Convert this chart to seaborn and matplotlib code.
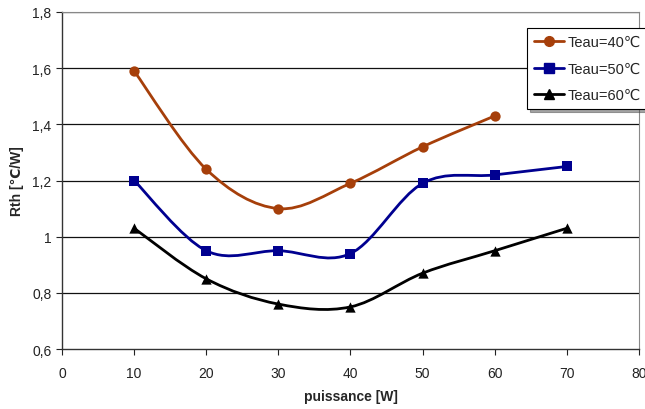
import numpy as np
import matplotlib
matplotlib.use("Agg")
import matplotlib.pyplot as plt
from matplotlib.path import Path
from matplotlib.patches import PathPatch
from matplotlib.lines import Line2D
import pandas as pd
import seaborn as sns

# data
puissance_40 = [10, 20, 30, 40, 50, 60]
rth_40 = [1.59, 1.24, 1.10, 1.19, 1.32, 1.43]
puissance_50 = [10, 20, 30, 40, 50, 60, 70]
rth_50 = [1.20, 0.95, 0.95, 0.94, 1.19, 1.22, 1.25]
puissance_60 = [10, 20, 30, 40, 50, 60, 70]
rth_60 = [1.03, 0.85, 0.76, 0.75, 0.87, 0.95, 1.03]

labels = ["Teau=40℃", "Teau=50℃", "Teau=60℃"]
colors = ["#A63F0A", "#000090", "#000000"]
markers = ["o", "s", "^"]

sns.set_theme(style="white")
plt.rcParams['font.family'] = ['Liberation Sans', 'DejaVu Sans']

fig = plt.figure(figsize=(6.45, 4.10), dpi=100)
ax = fig.add_axes([0.0961, 0.1463, 0.8946, 0.822])


def smooth_path(xs, ys):
    # Excel-like smoothed line: cubic bezier through the points
    pts = np.column_stack([xs, ys]).astype(float)
    n = len(pts)
    verts = [pts[0]]
    codes = [Path.MOVETO]
    for i in range(n - 1):
        p0 = pts[max(i - 1, 0)]
        p1 = pts[i]
        p2 = pts[i + 1]
        p3 = pts[min(i + 2, n - 1)]
        c1 = p1 + (p2 - p0) / 6.0
        c2 = p2 - (p3 - p1) / 6.0
        verts += [c1, c2, p2]
        codes += [Path.CURVE4] * 3
    return Path(verts, codes)


series = [(puissance_40, rth_40), (puissance_50, rth_50), (puissance_60, rth_60)]
handles = []
for (xs, ys), lab, col, mk in zip(series, labels, colors, markers):
    ax.add_patch(PathPatch(smooth_path(xs, ys), facecolor="none",
                           edgecolor=col, lw=2, zorder=3))
    df = pd.DataFrame({"x": xs, "y": ys})
    sns.scatterplot(data=df, x="x", y="y", marker=mk, color=col, s=55,
                    edgecolor=col, linewidth=0, ax=ax, zorder=4)
    handles.append(Line2D([0], [0], color=col, lw=2, marker=mk, markersize=7,
                          markeredgecolor=col, label=lab))

ax.set_xlim(0, 80)
ax.set_ylim(0.6, 1.8)
ax.set_xticks(range(0, 81, 10))
yt = [0.6, 0.8, 1.0, 1.2, 1.4, 1.6, 1.8]
ax.set_yticks(yt)
ax.set_yticklabels([("%g" % v).replace(".", ",") for v in yt])
for v in yt[1:]:
    ax.axhline(v, color="#111111", lw=0.9, zorder=1)

for s in ["left", "bottom"]:
    ax.spines[s].set_color("#333333")
    ax.spines[s].set_linewidth(1.0)
for s in ["top", "right"]:
    ax.spines[s].set_color("#888888")
    ax.spines[s].set_linewidth(0.8)

ax.tick_params(axis="both", which="both", labelsize=10, colors="#222222",
               length=4, width=0.8, direction="out", bottom=True, left=True)
ax.tick_params(axis="x", pad=8)
ax.set_xlabel("puissance [W]", fontsize=10, fontweight="bold", labelpad=7)
ax.set_ylabel("Rth [℃/W]", fontsize=10, fontweight="bold", labelpad=6)

leg = ax.legend(handles=handles, loc="upper left", bbox_to_anchor=(0.806, 0.9525),
                borderaxespad=0, frameon=True, fancybox=False, shadow=True,
                fontsize=10.5, handlelength=2.0, borderpad=0.5,
                labelspacing=0.85, handletextpad=0.3)
leg.get_frame().set_edgecolor("#000000")
leg.get_frame().set_linewidth(0.8)

fig.savefig("out.png", dpi=100)
